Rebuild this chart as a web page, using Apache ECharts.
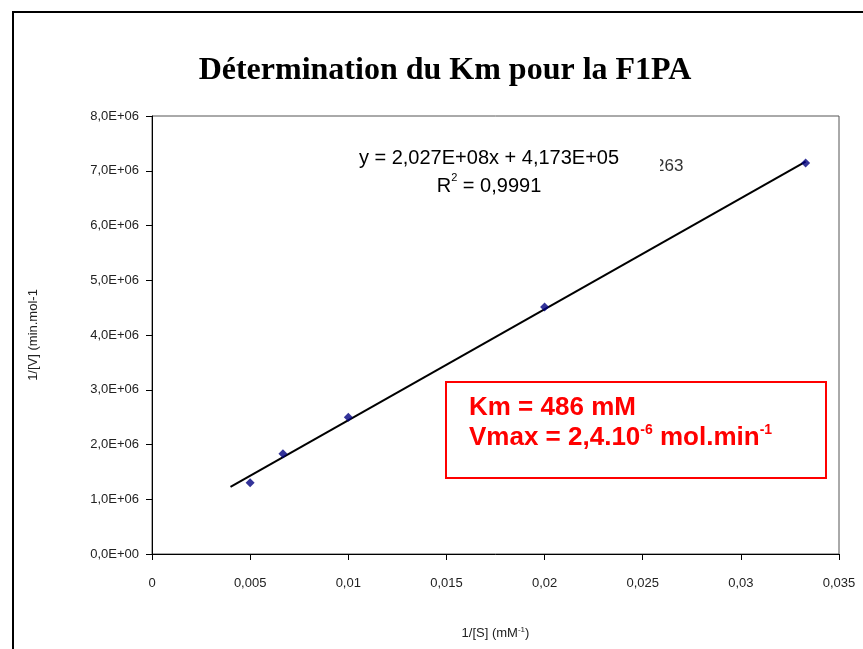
<!DOCTYPE html>
<html>
<head>
<meta charset="utf-8">
<script src="https://cdn.jsdelivr.net/npm/echarts@6/dist/echarts.min.js"></script>
<style>
  html, body { margin: 0; padding: 0; background: #fff; }
  #chart { width: 863px; height: 649px; }
</style>
</head>
<body>
<div id="chart"></div>
<script>
// Lineweaver-Burk measurements: 1/[S] (mM^-1) against 1/V (min.mol^-1)
const invS = [0.005, 0.00667, 0.01, 0.02, 0.0333];
const invV = [1.30e6, 1.83e6, 2.50e6, 4.51e6, 7.14e6];

// Linear fit reported on the chart
const slope = 2.027e8;
const intercept = 4.173e5;
const trendRange = [0.004, 0.0333];

// Tick labels (French decimal comma)
const xTickLabels = ['0', '0,005', '0,01', '0,015', '0,02', '0,025', '0,03', '0,035'];
const yTickLabels = ['0,0E+00', '1,0E+06', '2,0E+06', '3,0E+06', '4,0E+06', '5,0E+06', '6,0E+06', '7,0E+06', '8,0E+06'];

const points = invS.map((x, i) => [x, invV[i]]);
const trend = trendRange.map(x => [x, slope * x + intercept]);

const chart = echarts.init(document.getElementById('chart'), null, { renderer: 'canvas' });

const sans = 'Liberation Sans, Arial, sans-serif';
const axisFont = { fontFamily: sans, fontSize: 13, color: '#222' };

chart.setOption({
  animation: false,
  backgroundColor: '#fff',
  title: {
    text: 'Détermination du Km pour la F1PA',
    left: 440,
    top: 50,
    textAlign: 'center',
    textStyle: {
      fontFamily: 'Liberation Serif, Times New Roman, serif',
      fontWeight: 'bold',
      fontSize: 32,
      color: '#000'
    }
  },
  grid: {
    left: 152, right: 24, top: 116, bottom: 95,
    show: true, borderColor: '#555', borderWidth: 1, backgroundColor: '#fff'
  },
  xAxis: {
    type: 'value',
    min: 0, max: 0.035, interval: 0.005,
    name: '1/[S] (mM{sup|-1})',
    nameLocation: 'middle',
    nameGap: 72,
    nameTextStyle: {
      fontFamily: sans, fontSize: 13, color: '#222',
      rich: { sup: { fontSize: 8, verticalAlign: 'top', color: '#222', padding: [0, 0, 6, 0] } }
    },
    axisLine: { lineStyle: { color: '#000', width: 1 } },
    axisTick: { show: true, inside: false, length: 6, lineStyle: { color: '#000' } },
    splitLine: { show: false },
    axisLabel: Object.assign({ margin: 23, formatter: (v, i) => xTickLabels[i] }, axisFont)
  },
  yAxis: {
    type: 'value',
    min: 0, max: 8e6, interval: 1e6,
    name: '1/[V] (min.mol-1',
    nameLocation: 'middle',
    nameGap: 112,
    nameRotate: 90,
    nameTextStyle: { fontFamily: sans, fontSize: 13, color: '#222' },
    axisLine: { show: true, lineStyle: { color: '#000', width: 1 } },
    axisTick: { show: true, inside: false, length: 6, lineStyle: { color: '#000' } },
    splitLine: { show: false },
    axisLabel: Object.assign({ margin: 13, formatter: (v, i) => yTickLabels[i] }, axisFont)
  },
  series: [
    {
      type: 'line',
      data: trend,
      showSymbol: false,
      symbol: 'none',
      lineStyle: { color: '#000', width: 2 },
      z: 2
    },
    {
      type: 'scatter',
      data: points,
      symbol: 'diamond',
      symbolSize: 9,
      itemStyle: { color: '#000080' },
      z: 3
    }
  ],
  graphic: [
    // outer chart frame
    { type: 'rect', shape: { x: 13, y: 12, width: 900, height: 700 }, style: { fill: null, stroke: '#000', lineWidth: 2 }, z: 0, silent: true },
    // leftover label fragment peeking out from behind the equation
    { type: 'text', x: 655, y: 158, z: 10, style: { text: '263', font: '17px ' + sans, fill: '#333' } },
    { type: 'rect', shape: { x: 630, y: 155, width: 30, height: 24 }, style: { fill: '#fff' }, z: 11 },
    // regression equation
    {
      type: 'text', x: 489, y: 144, z: 12,
      style: {
        text: '{r|y = 2,027E+08x + 4,173E+05}\n{r|R}{s|2}{r| = 0,9991}',
        align: 'center',
        rich: {
          r: { fontSize: 20, fontFamily: sans, fill: '#000', lineHeight: 28 },
          s: { fontSize: 11, fontFamily: sans, fill: '#000', verticalAlign: 'top', lineHeight: 28, padding: [0, 0, 10, 0] }
        }
      }
    },
    // result box
    { type: 'rect', shape: { x: 446, y: 382, width: 380, height: 96 }, style: { fill: '#fff', stroke: '#ff0000', lineWidth: 2 }, z: 12 },
    {
      type: 'text', x: 469, y: 393, z: 13,
      style: {
        text: '{b|Km = 486 mM}\n{b|Vmax = 2,4.10}{s|-6}{b| mol.min}{s|-1}',
        rich: {
          b: { fontSize: 26, fontWeight: 'bold', fontFamily: sans, fill: '#ff0000', lineHeight: 30 },
          s: { fontSize: 14, fontWeight: 'bold', fontFamily: sans, fill: '#ff0000', verticalAlign: 'top', lineHeight: 30, padding: [0, 0, 12, 0] }
        }
      }
    }
  ]
});
</script>
</body>
</html>
